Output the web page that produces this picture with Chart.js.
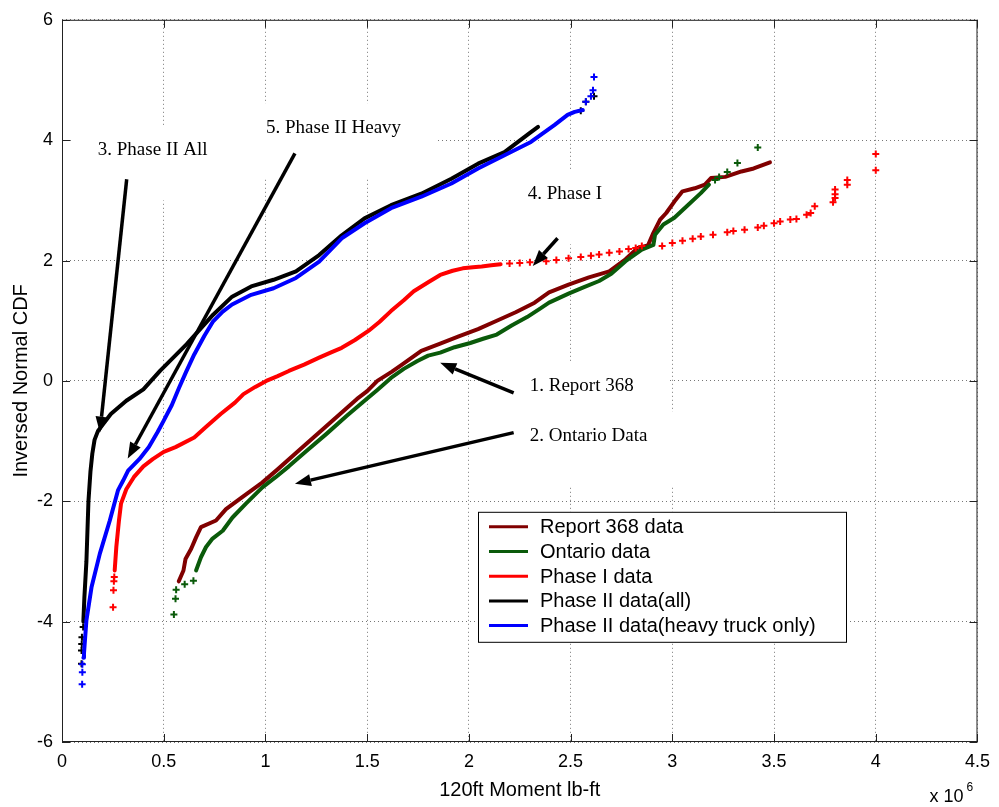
<!DOCTYPE html>
<html>
<head>
<meta charset="utf-8">
<title>Inversed Normal CDF - 120ft Moment</title>
<script src="https://cdn.jsdelivr.net/npm/chart.js@4.4.0/dist/chart.umd.min.js"></script>
<style>
  html, body { margin: 0; padding: 0; background: #fff; }
  canvas { display: block; }
</style>
</head>
<body>
<canvas id="cdf" width="999" height="807"></canvas>
<script>
// values (x in 10^6 lb-ft, y = inversed normal CDF)
const seriesNames = ['Report 368 data', 'Ontario data', 'Phase I data', 'Phase II data(all)', 'Phase II data(heavy truck only)'];
const seriesColors = ['#800000', '#0a5a0a', '#ff0000', '#000000', '#0000ff'];

const xTickValues = [0, 0.5, 1, 1.5, 2, 2.5, 3, 3.5, 4, 4.5];
const yTickValues = [-6, -4, -2, 0, 2, 4, 6];

const report368X = [0.574, 0.597, 0.607, 0.635, 0.659, 0.683, 0.757, 0.806, 0.886, 0.984, 1.06, 1.15, 1.25, 1.35, 1.45, 1.5, 1.55, 1.62, 1.673, 1.766, 1.859, 1.95, 2.045, 2.137, 2.23, 2.323, 2.394, 2.49, 2.59, 2.69, 2.77, 2.83, 2.88, 2.907, 2.94, 2.97, 3.01, 3.05, 3.11, 3.16, 3.19, 3.26, 3.34, 3.40, 3.48];
const report368Y = [-3.33, -3.15, -2.96, -2.79, -2.6, -2.43, -2.32, -2.13, -1.93, -1.69, -1.47, -1.2, -0.9, -0.6, -0.3, -0.17, 0.0, 0.15, 0.275, 0.5, 0.62, 0.74, 0.86, 1.0, 1.14, 1.3, 1.47, 1.6, 1.72, 1.82, 2.02, 2.21, 2.25, 2.46, 2.68, 2.79, 2.98, 3.15, 3.2, 3.26, 3.37, 3.39, 3.48, 3.53, 3.63];

const ontarioX = [0.659, 0.683, 0.708, 0.74, 0.79, 0.838, 0.904, 0.985, 1.05, 1.115, 1.2, 1.3, 1.4, 1.487, 1.55, 1.617, 1.68, 1.747, 1.8, 1.859, 1.93, 2.007, 2.07, 2.137, 2.21, 2.286, 2.35, 2.394, 2.49, 2.56, 2.64, 2.7, 2.77, 2.85, 2.907, 2.915, 2.956, 3.01, 3.08, 3.14, 3.18];
const ontarioY = [-3.15, -2.93, -2.76, -2.62, -2.49, -2.27, -2.04, -1.77, -1.6, -1.42, -1.17, -0.88, -0.58, -0.33, -0.15, 0.05, 0.2, 0.33, 0.42, 0.47, 0.56, 0.63, 0.7, 0.77, 0.92, 1.06, 1.2, 1.3, 1.45, 1.55, 1.66, 1.78, 1.99, 2.18, 2.26, 2.43, 2.6, 2.71, 2.93, 3.12, 3.26];
const ontarioTailX = [0.55, 0.558, 0.561, 0.603, 0.646, 3.21, 3.23, 3.27, 3.32, 3.42];
const ontarioTailY = [-3.88, -3.62, -3.47, -3.38, -3.32, 3.34, 3.39, 3.47, 3.62, 3.88];

const phase1X = [0.259, 0.267, 0.28, 0.29, 0.316, 0.353, 0.40, 0.446, 0.5, 0.558, 0.65, 0.706, 0.78, 0.85, 0.892, 0.95, 1.004, 1.06, 1.115, 1.19, 1.264, 1.32, 1.375, 1.44, 1.506, 1.56, 1.617, 1.68, 1.729, 1.8, 1.859, 1.92, 1.97, 2.02, 2.063, 2.11, 2.156];
const phase1Y = [-3.15, -2.76, -2.32, -2.04, -1.8, -1.6, -1.42, -1.3, -1.18, -1.10, -0.94, -0.77, -0.55, -0.36, -0.22, -0.1, 0.0, 0.08, 0.165, 0.27, 0.386, 0.47, 0.55, 0.68, 0.83, 0.98, 1.16, 1.34, 1.49, 1.64, 1.76, 1.83, 1.87, 1.89, 1.9, 1.92, 1.94];
const phase1TailX = [0.251, 0.253, 0.255, 0.257, 2.2, 2.25, 2.3, 2.38, 2.43, 2.49, 2.55, 2.6, 2.64, 2.69, 2.74, 2.785, 2.82, 2.85, 2.95, 3.0, 3.05, 3.1, 3.14, 3.2, 3.27, 3.3, 3.355, 3.42, 3.45, 3.5, 3.53, 3.58, 3.61, 3.66, 3.68, 3.70, 3.79, 3.80, 3.80, 3.80, 3.86, 3.86, 4.0, 4.0];
const phase1TailY = [-3.76, -3.48, -3.33, -3.26, 1.95, 1.96, 1.97, 1.99, 2.01, 2.04, 2.06, 2.08, 2.1, 2.13, 2.15, 2.19, 2.21, 2.24, 2.24, 2.29, 2.33, 2.36, 2.4, 2.43, 2.47, 2.49, 2.51, 2.55, 2.58, 2.62, 2.65, 2.68, 2.69, 2.76, 2.79, 2.9, 2.97, 3.04, 3.1, 3.18, 3.26, 3.34, 3.5, 3.77];

const phase2AllX = [0.105, 0.11, 0.12, 0.13, 0.14, 0.149, 0.16, 0.177, 0.24, 0.316, 0.40, 0.483, 0.613, 0.743, 0.836, 0.93, 1.04, 1.15, 1.264, 1.375, 1.487, 1.617, 1.766, 1.914, 2.045, 2.175, 2.3, 2.34];
const phase2AllY = [-4.0, -3.6, -3.0, -2.0, -1.5, -1.21, -0.98, -0.83, -0.55, -0.33, -0.14, 0.17, 0.61, 1.10, 1.40, 1.57, 1.68, 1.82, 2.09, 2.42, 2.70, 2.92, 3.11, 3.36, 3.61, 3.80, 4.12, 4.22];
const phase2AllTailX = [0.096, 0.096, 0.097, 0.098, 0.104, 2.55, 2.575, 2.615];
const phase2AllTailY = [-4.7, -4.48, -4.37, -4.26, -4.09, 4.49, 4.64, 4.73];

const phase2HeavyX = [0.105, 0.108, 0.12, 0.145, 0.186, 0.235, 0.275, 0.3, 0.325, 0.38, 0.427, 0.47, 0.50, 0.54, 0.576, 0.61, 0.65, 0.7, 0.743, 0.79, 0.836, 0.93, 1.04, 1.15, 1.264, 1.375, 1.487, 1.617, 1.766, 1.914, 2.045, 2.175, 2.305, 2.42, 2.485, 2.52, 2.56];
const phase2HeavyY = [-4.6, -4.53, -3.98, -3.43, -2.87, -2.32, -1.82, -1.66, -1.49, -1.3, -1.10, -0.85, -0.66, -0.4, -0.11, 0.15, 0.44, 0.75, 0.99, 1.15, 1.27, 1.43, 1.54, 1.71, 1.98, 2.37, 2.62, 2.87, 3.06, 3.28, 3.53, 3.75, 3.97, 4.25, 4.42, 4.47, 4.5];
const phase2HeavyTailX = [0.099, 0.1, 0.1, 2.575, 2.6, 2.61, 2.615];
const phase2HeavyTailY = [-5.04, -4.84, -4.71, 4.64, 4.73, 4.83, 5.05];

// text callouts on the plot (data coordinates)
const callouts = [
    { text: '3. Phase II All', x: 0.176, y: 3.83, from: [0.318, 3.35], to: [0.186, -0.86] },
    { text: '5. Phase II Heavy', x: 1.003, y: 4.21, from: [1.145, 3.78], to: [0.323, -1.29] },
    { text: '4. Phase I', x: 2.289, y: 3.10, from: [2.436, 2.37], to: [2.314, 1.91] },
    { text: '1. Report 368', x: 2.299, y: -0.083, from: [2.22, -0.2], to: [1.859, 0.30] },
    { text: '2. Ontario Data', x: 2.299, y: -0.912, from: [2.22, -0.86], to: [1.145, -1.71] }
];

function pts(xs, ys) {
    return xs.map((x, i) => ({ x: x, y: ys[i] }));
}

function bodySet(i, xs, ys) {
    return {
        label: seriesNames[i],
        data: pts(xs, ys),
        showLine: true,
        borderColor: seriesColors[i],
        backgroundColor: seriesColors[i],
        borderWidth: 4,
        borderJoinStyle: 'round',
        borderCapStyle: 'round',
        pointRadius: 0,
        order: 5 - i
    };
}

function tailSet(i, xs, ys) {
    return {
        label: '',
        data: pts(xs, ys),
        showLine: false,
        pointStyle: 'cross',
        pointRadius: 3.5,
        pointBorderWidth: 2,
        pointBorderColor: seriesColors[i],
        pointBackgroundColor: seriesColors[i],
        order: 5 - i
    };
}

const font = 'Liberation Sans, Arial, sans-serif';
const serif = 'Liberation Serif, Times New Roman, serif';

function drawArrow(ctx, x1, y1, x2, y2) {
    const ang = Math.atan2(y2 - y1, x2 - x1);
    const head = 16, half = 6;
    const bx = x2 - head * Math.cos(ang), by = y2 - head * Math.sin(ang);
    ctx.strokeStyle = '#000';
    ctx.lineWidth = 3.5;
    ctx.beginPath();
    ctx.moveTo(x1, y1);
    ctx.lineTo(bx, by);
    ctx.stroke();
    ctx.fillStyle = '#000';
    ctx.beginPath();
    ctx.moveTo(x2, y2);
    ctx.lineTo(bx + half * Math.sin(ang), by - half * Math.cos(ang));
    ctx.lineTo(bx - half * Math.sin(ang), by + half * Math.cos(ang));
    ctx.closePath();
    ctx.fill();
}

const matlabLook = {
    id: 'matlabLook',
    beforeDatasetsDraw(chart) {
        // white text boxes hide the grid behind the callouts
        const { ctx, scales: { x, y } } = chart;
        ctx.save();
        ctx.font = '19px ' + serif;
        ctx.fillStyle = '#fff';
        callouts.forEach(c => {
            const px = x.getPixelForValue(c.x), py = y.getPixelForValue(c.y);
            const w = ctx.measureText(c.text).width;
            ctx.fillRect(px - 24, py - 24, w + 60, 74);
        });
        ctx.restore();
    },
    afterDatasetsDraw(chart) {
        const { ctx, chartArea: a, scales: { x, y } } = chart;
        ctx.save();

        // axes box with inward ticks on every side
        ctx.strokeStyle = '#222';
        ctx.lineWidth = 1;
        ctx.strokeRect(a.left + 0.5, a.top + 0.5, a.right - a.left - 1, a.bottom - a.top - 1);
        ctx.beginPath();
        xTickValues.forEach(v => {
            const px = Math.round(x.getPixelForValue(v)) + 0.5;
            ctx.moveTo(px, a.bottom); ctx.lineTo(px, a.bottom - 8);
            ctx.moveTo(px, a.top); ctx.lineTo(px, a.top + 8);
        });
        yTickValues.forEach(v => {
            const py = Math.round(y.getPixelForValue(v)) + 0.5;
            ctx.moveTo(a.left, py); ctx.lineTo(a.left + 8, py);
            ctx.moveTo(a.right, py); ctx.lineTo(a.right - 8, py);
        });
        ctx.stroke();

        // callouts
        ctx.font = '19px ' + serif;
        ctx.textBaseline = 'middle';
        ctx.textAlign = 'left';
        callouts.forEach(c => {
            ctx.fillStyle = '#000';
            ctx.fillText(c.text, x.getPixelForValue(c.x), y.getPixelForValue(c.y));
            drawArrow(ctx, x.getPixelForValue(c.from[0]), y.getPixelForValue(c.from[1]),
                x.getPixelForValue(c.to[0]), y.getPixelForValue(c.to[1]));
        });

        // legend box, lower right of the plot
        const lx = a.left + 416, ly = a.top + 492, lw = 368, lh = 130;
        ctx.fillStyle = '#fff';
        ctx.fillRect(lx, ly, lw, lh);
        ctx.strokeStyle = '#000';
        ctx.lineWidth = 1;
        ctx.strokeRect(lx + 0.5, ly + 0.5, lw, lh);
        ctx.font = '20px ' + font;
        seriesNames.forEach((name, i) => {
            const ry = ly + 15 + i * 24.7;
            ctx.strokeStyle = seriesColors[i];
            ctx.lineWidth = 3;
            ctx.beginPath();
            ctx.moveTo(lx + 11, ry); ctx.lineTo(lx + 50, ry);
            ctx.stroke();
            ctx.fillStyle = '#000';
            ctx.fillText(name, lx + 62, ry + 1);
        });

        // exponent label
        ctx.fillStyle = '#000';
        ctx.font = '18px ' + font;
        ctx.fillText('x 10', a.right - 48, a.bottom + 55);
        ctx.font = '12px ' + font;
        ctx.fillText('6', a.right - 11, a.bottom + 46);
        ctx.restore();
    }
};

new Chart(document.getElementById('cdf').getContext('2d'), {
    type: 'scatter',
    data: {
        datasets: [
            bodySet(0, report368X, report368Y),
            bodySet(1, ontarioX, ontarioY),
            tailSet(1, ontarioTailX, ontarioTailY),
            bodySet(2, phase1X, phase1Y),
            tailSet(2, phase1TailX, phase1TailY),
            bodySet(3, phase2AllX, phase2AllY),
            tailSet(3, phase2AllTailX, phase2AllTailY),
            bodySet(4, phase2HeavyX, phase2HeavyY),
            tailSet(4, phase2HeavyTailX, phase2HeavyTailY)
        ]
    },
    options: {
        responsive: false,
        animation: false,
        layout: { padding: { top: 18, right: 17, left: 0, bottom: 0 } },
        plugins: {
            legend: { display: false },
            tooltip: { enabled: false }
        },
        scales: {
            x: {
                type: 'linear',
                min: 0,
                max: 4.5,
                afterBuildTicks: s => { s.ticks = xTickValues.map(v => ({ value: v })); },
                afterFit: s => { s.height = 65; },
                ticks: { color: '#000', padding: 9, font: { family: font, size: 18 }, callback: v => String(v) },
                grid: { color: '#777', lineWidth: 1, drawTicks: false },
                border: { display: false, dash: [1, 3] },
                title: { display: true, text: '120ft Moment lb-ft', color: '#000', padding: { top: 0, bottom: 5 }, font: { family: font, size: 20 } }
            },
            y: {
                type: 'linear',
                min: -6,
                max: 6,
                afterBuildTicks: s => { s.ticks = yTickValues.map(v => ({ value: v })); },
                afterFit: s => { s.width = 62; },
                ticks: { color: '#000', padding: 9, font: { family: font, size: 18 }, callback: v => String(v) },
                grid: { color: '#777', lineWidth: 1, drawTicks: false },
                border: { display: false, dash: [1, 3] },
                title: { display: true, text: 'Inversed Normal CDF', color: '#000', padding: { top: 9, bottom: 0 }, font: { family: font, size: 20 } }
            }
        }
    },
    plugins: [matlabLook]
});
</script>
</body>
</html>
